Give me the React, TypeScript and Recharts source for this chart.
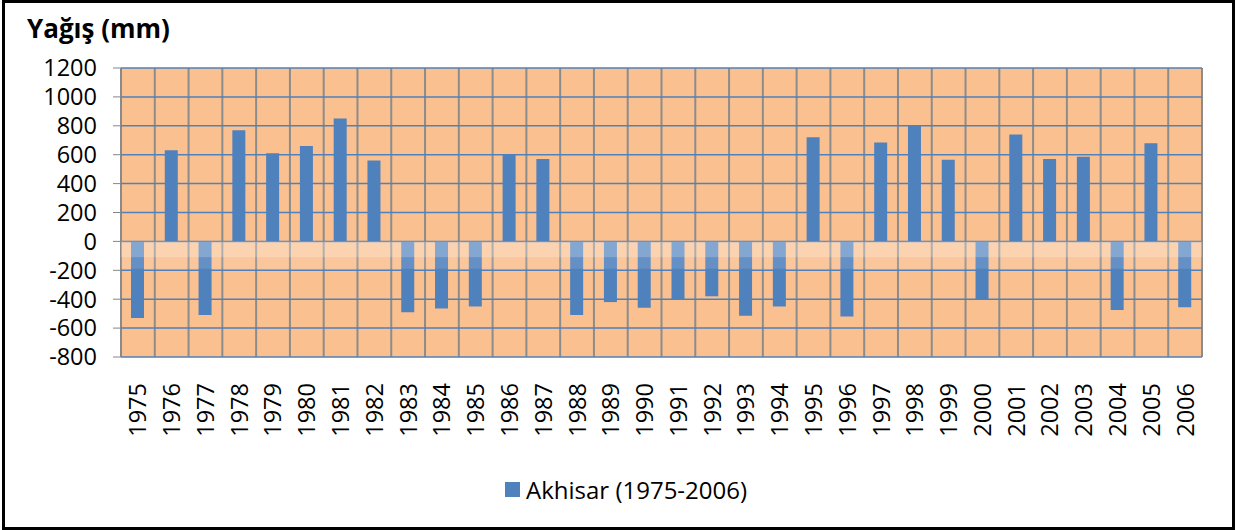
import { BarChart, Bar, XAxis, YAxis, CartesianGrid, Legend, ReferenceArea } from 'recharts';

const years = [
  '1975', '1976', '1977', '1978', '1979', '1980', '1981', '1982',
  '1983', '1984', '1985', '1986', '1987', '1988', '1989', '1990',
  '1991', '1992', '1993', '1994', '1995', '1996', '1997', '1998',
  '1999', '2000', '2001', '2002', '2003', '2004', '2005', '2006',
];

// Akhisar yağış sapması (mm)
const akhisar = [
  -530, 630, -510, 770, 610, 660, 850, 560,
  -490, -465, -450, 600, 570, -510, -420, -460,
  -400, -380, -515, -450, 720, -520, 685, 800,
  565, -400, 740, 570, 585, -475, 680, -455,
];

const yTicks = [-800, -600, -400, -200, 0, 200, 400, 600, 800, 1000, 1200];

const data = years.map((year, i) => ({ year, value: akhisar[i] }));

const FONT = '"Open Sans", Lato, sans-serif';

// vertical grid lines sit on the category boundaries, not on the tick centres
const slotEdges = ({ offset }: any) =>
  years.map((_, i) => i).concat([years.length]).map((k) => offset.left + (k * offset.width) / years.length);

const YearTick = ({ x, y, payload }: any) => (
  <text
    transform={`translate(${x},${y}) rotate(-90)`}
    textAnchor="end"
    dy="0.36em"
    fontSize={23.5}
    fontFamily={FONT}
    fill="#000"
  >
    {payload.value}
  </text>
);

const LegendBox = () => (
  <div style={{ display: 'flex', alignItems: 'center', fontFamily: FONT, fontSize: 24, color: '#000', whiteSpace: 'nowrap' }}>
    <span style={{ width: 15, height: 15, background: '#4F81BD', display: 'inline-block', marginRight: 6 }} />
    Akhisar (1975-2006)
  </div>
);

export default function App() {
  return (
    <div style={{ position: 'absolute', left: 0, top: 0, width: 1244, height: 530, background: '#fff' }}>
      <div
        style={{
          position: 'absolute',
          left: 27,
          top: 13,
          fontFamily: FONT,
          fontWeight: 'bold',
          fontSize: 26,
          lineHeight: '30px',
          color: '#000',
        }}
      >
        Yağış (mm)
      </div>
      <BarChart
        width={1244}
        height={530}
        data={data}
        margin={{ top: 68, right: 42, left: 0, bottom: 73 }}
        barSize={13}
      >
        <CartesianGrid
          horizontal={false}
          verticalCoordinatesGenerator={slotEdges}
          stroke="#8c8c8c"
          strokeWidth={2}
          fill="#FAC090"
        />
        <CartesianGrid vertical={false} stroke="#4F81BD" strokeWidth={1.5} />
        <XAxis
          dataKey="year"
          interval={0}
          axisLine={false}
          tickLine={false}
          tickSize={0}
          tickMargin={26}
          height={100}
          tick={<YearTick />}
        />
        <YAxis
          domain={[-800, 1200]}
          ticks={yTicks}
          interval={0}
          width={121}
          tickSize={8}
          tickMargin={16}
          stroke="#868686"
          tick={{ fill: '#000', fontSize: 23.5, fontFamily: FONT }}
        />
        <Bar dataKey="value" name="Akhisar (1975-2006)" fill="#4F81BD" isAnimationActive={false} />
        <ReferenceArea y1={0} y2={-110} fill="#ffffff" fillOpacity={0.3} stroke="none" zIndex={1000} />
        <ReferenceArea y1={-110} y2={-190} fill="#ffffff" fillOpacity={0.12} stroke="none" zIndex={1000} />
        <Legend
          verticalAlign="middle"
          align="center"
          layout="horizontal"
          content={<LegendBox />}
          wrapperStyle={{ position: 'absolute', left: 505, top: 473, width: 'auto' }}
        />
      </BarChart>
      <div
        style={{
          position: 'absolute',
          left: 2,
          top: 0,
          width: 1233,
          height: 530,
          border: '3px solid #000',
          boxSizing: 'border-box',
          pointerEvents: 'none',
        }}
      />
    </div>
  );
}
